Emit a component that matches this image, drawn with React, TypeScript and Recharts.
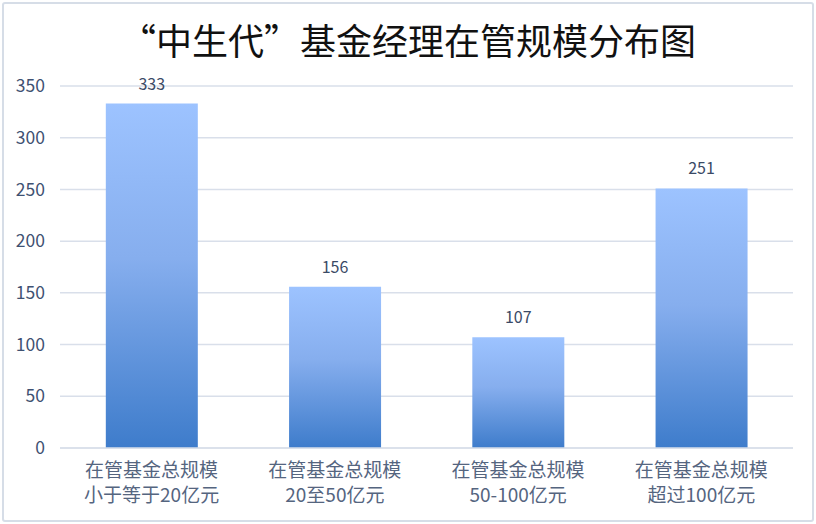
import { BarChart, Bar, XAxis, YAxis, CartesianGrid, LabelList } from 'recharts';

const categories = [
  '在管基金总规模\n小于等于20亿元',
  '在管基金总规模\n20至50亿元',
  '在管基金总规模\n50-100亿元',
  '在管基金总规模\n超过100亿元',
];
const managerCounts = [333, 156, 107, 251];
const yTicks = [0, 50, 100, 150, 200, 250, 300, 350];

const chartData = categories.map((name, i) => ({ name, count: managerCounts[i] }));

const CJK = '"Noto Sans CJK SC", "Noto Sans", sans-serif';

const CategoryTick = (props: any) => {
  const { x, y, payload } = props;
  const lines = String(payload.value).split('\n');
  return (
    <text x={x} y={y} textAnchor="middle" fill="#55657F" fontSize={19} fontFamily={CJK}>
      {lines.map((line, i) => (
        <tspan key={i} x={x} dy={i === 0 ? 21 : 25}>
          {line}
        </tspan>
      ))}
    </text>
  );
};

const App = () => {
  return (
    <div style={{ position: 'absolute', left: 0, top: 0, width: 816, height: 524, background: '#fff' }}>
      <div
        style={{
          position: 'absolute', left: 2, top: 2, width: 808, height: 516,
          border: '2px solid #D6DDE7', borderRadius: 3,
        }}
      />
      <div
        style={{
          position: 'absolute', left: 0, top: 15, width: 816, textAlign: 'center',
          fontFamily: CJK, fontSize: 36, color: '#111', lineHeight: '48px',
        }}
      >
        “中生代”基金经理在管规模分布图
      </div>
      <BarChart
        width={816}
        height={524}
        data={chartData}
        margin={{ top: 86, right: 23, left: 0, bottom: 0 }}
        barCategoryGap="25%"
      >
        <defs>
          <linearGradient id="barFill" x1="0" y1="0" x2="0" y2="1">
            <stop offset="0%" stopColor="#9DC3FF" />
            <stop offset="45%" stopColor="#86AEEE" />
            <stop offset="100%" stopColor="#3E7CCB" />
          </linearGradient>
        </defs>
        <CartesianGrid vertical={false} stroke="#D9DFEA" strokeWidth={1.5} />
        <XAxis
          dataKey="name"
          height={76}
          tickLine={false}
          axisLine={{ stroke: '#D9DFEA', strokeWidth: 1.5 }}
          tick={<CategoryTick />}
          interval={0}
        />
        <YAxis
          width={60}
          domain={[0, 350]}
          ticks={yTicks}
          tickLine={false}
          axisLine={false}
          tickMargin={9}
          tick={{ fill: '#3F5172', fontSize: 17.5, fontFamily: CJK }}
        />
        <Bar dataKey="count" fill="url(#barFill)" isAnimationActive={false}>
          <LabelList
            dataKey="count"
            position="top"
            offset={14}
            fill="#3B4A66"
            fontSize={16}
            fontFamily={CJK}
          />
        </Bar>
      </BarChart>
    </div>
  );
};

export default App;
